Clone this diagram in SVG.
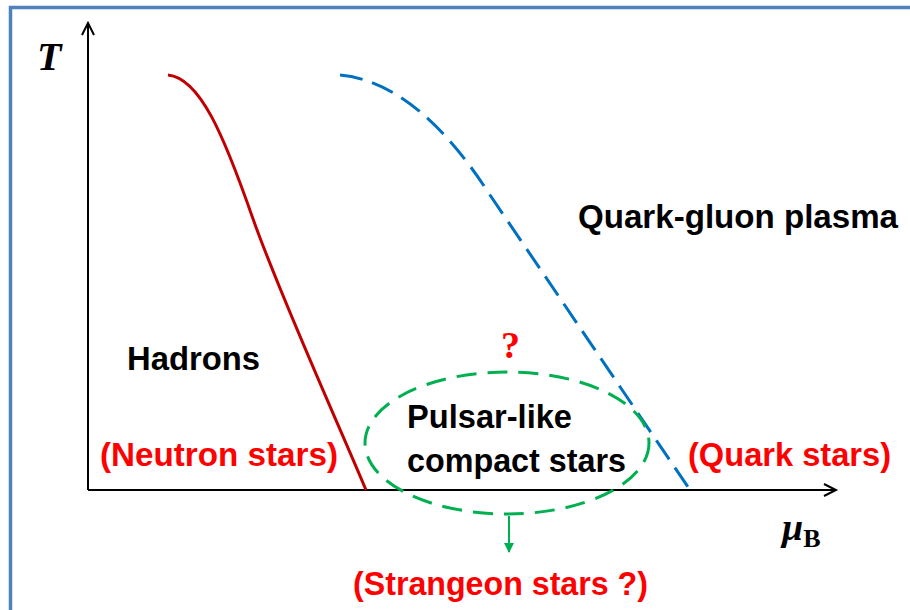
<svg xmlns="http://www.w3.org/2000/svg" width="910" height="610" viewBox="0 0 910 610">
<style>
.lbl{font-family:"Liberation Sans","Open Sans",Arial,sans-serif;font-weight:bold;font-size:34px;fill:#000}
.red{fill:#FF0000}
.sym{font-family:"Liberation Serif","Times New Roman",serif;font-weight:bold}
.axis{stroke:#000;stroke-width:2;fill:none}
</style>
<defs>
<marker id="garrow" viewBox="0 0 10 10" refX="9" refY="5" markerWidth="5" markerHeight="5" orient="auto">
<path d="M0,0 L10,5 L0,10 Z" fill="#00B050"/>
</marker>
</defs>
<rect width="910" height="610" fill="#fff"/>
<rect x="10.5" y="7.5" width="940" height="640" fill="none" stroke="#4F81BD" stroke-width="3.5"/>
<g id="axes">
<line class="axis" x1="88" y1="490" x2="88" y2="24"/>
<polyline class="axis" points="82,35 88,23 94,35"/>
<line class="axis" x1="88" y1="490" x2="835" y2="490"/>
<polyline class="axis" points="824,484 836,490 824,496"/>
<text class="sym" x="37" y="70" font-size="40" font-style="italic">T</text>
<text class="sym" x="782" y="540" font-size="38" font-style="italic">μ<tspan font-size="26" font-style="normal" dy="7">B</tspan></text>
</g>
<g id="connectors">
<path id="hadron-boundary" d="M168,75 C200,78 224,136 252,216 S342,432 366,490" fill="none" stroke="#C00000" stroke-width="3"/>
<path id="qgp-boundary" d="M340,75 C395,80 445,125 490,195 L690,490" fill="none" stroke="#0070C0" stroke-width="3" stroke-dasharray="23 10"/>
<line x1="509" y1="516" x2="509" y2="552" stroke="#00B050" stroke-width="2" marker-end="url(#garrow)"/>
</g>
<g id="pulsar-region">
<ellipse cx="507" cy="443" rx="142" ry="71" fill="none" stroke="#00B050" stroke-width="3" stroke-dasharray="20 11"/>
<text class="lbl" x="407" y="428" textLength="165" lengthAdjust="spacingAndGlyphs">Pulsar-like</text>
<text class="lbl" x="407" y="472" textLength="219" lengthAdjust="spacingAndGlyphs">compact stars</text>
</g>
<g id="qgp">
<text class="lbl" x="578" y="228" textLength="320" lengthAdjust="spacingAndGlyphs">Quark-gluon plasma</text>
</g>
<g id="hadrons">
<text class="lbl" x="127" y="370" textLength="133" lengthAdjust="spacingAndGlyphs">Hadrons</text>
</g>
<g id="neutron-stars">
<text class="lbl red" x="100" y="466" textLength="238" lengthAdjust="spacingAndGlyphs">(Neutron stars)</text>
</g>
<g id="quark-stars">
<text class="lbl red" x="688" y="466" textLength="203" lengthAdjust="spacingAndGlyphs">(Quark stars)</text>
</g>
<g id="question">
<text class="sym" x="501" y="358" font-size="38" fill="#FF0000">?</text>
</g>
<g id="strangeon-stars">
<text class="lbl red" x="353" y="595" textLength="295" lengthAdjust="spacingAndGlyphs">(Strangeon stars ?)</text>
</g>
</svg>
